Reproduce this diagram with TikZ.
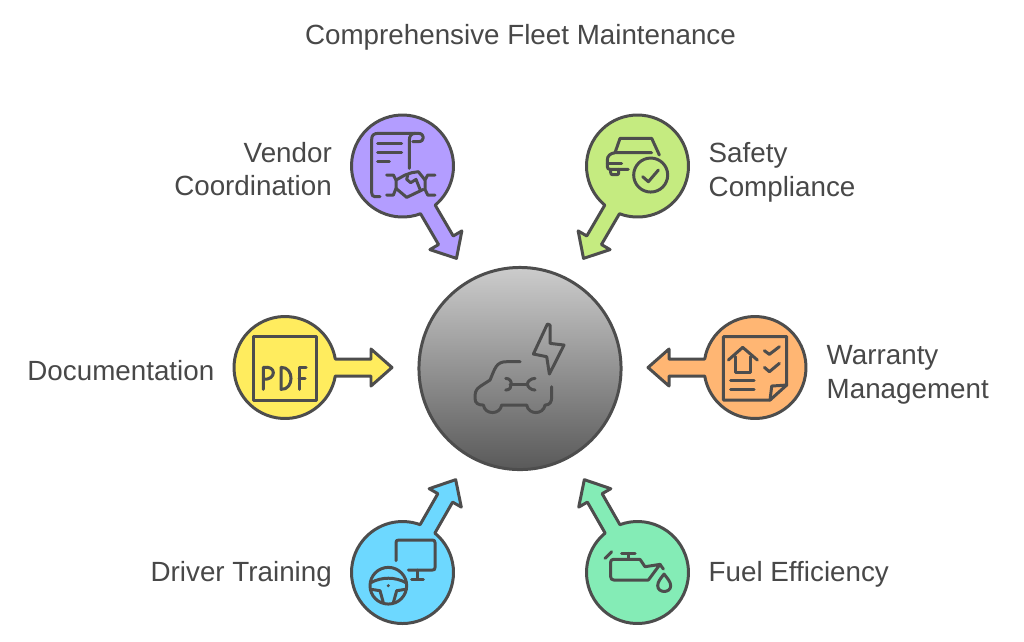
\documentclass[tikz,border=0pt]{standalone}
\usepackage{fontspec}
\setmainfont{Liberation Sans}
\usepackage{xcolor}
\usepackage{tikz}
\usetikzlibrary{calc}
\definecolor{FleetInk}{HTML}{4D4D4D}
\definecolor{FleetText}{HTML}{484848}
\definecolor{FleetPurple}{HTML}{B39DFF}
\definecolor{FleetLime}{HTML}{C5EB80}
\definecolor{FleetOrange}{HTML}{FFB673}
\definecolor{FleetYellow}{HTML}{FFEC5E}
\definecolor{FleetBlue}{HTML}{6DD8FF}
\definecolor{FleetMint}{HTML}{84ECB6}
\tikzset{
  spokeline/.style={draw=FleetInk,line width=0.85pt,line join=round},
  iconline/.style={draw=FleetInk,line width=0.85pt,line join=round,line cap=round},
  iconbox/.style 2 args={shift={(#1,#2)},x=0.03333mm,y=-0.03333mm},
  label/.style={text=FleetText,font=\fontsize{7.9}{9.6}\selectfont,inner sep=0pt},
}
\newcommand{\spoke}[4]{%
  \coordinate (#1) at (#2);
  \begin{scope}[shift={(#1)},rotate=#3]
    \draw[spokeline,fill=#4] (9.6:51) arc[start angle=9.6,end angle=350.4,radius=51]
      -- (86,-8.5) -- (86,-18.5) -- (107,0) -- (86,18.5) -- (86,8.5) -- cycle;
  \end{scope}}

\begin{document}
\begin{tikzpicture}[x=0.01cm,y=-0.01cm]
\useasboundingbox (0,0) rectangle (1024,641);
\node[label] (title) at (520.5,37) {Comprehensive Fleet Maintenance};

% centre
\node[circle,minimum size=2.02cm,inner sep=0pt,draw=FleetInk,line width=0.85pt,top color=black!20,bottom color=black!65] (hub) at (520,368.5) {};
\begin{scope}[iconbox={410}{260}]
\draw[iconline] (412,192) -- (370,282) -- (410,290) -- (418,342) -- (462,255) -- (420,250) -- (420,195) -- cycle;
\draw[iconline] (330,305) -- (290,305) .. controls (258,305) and (255,325) .. (240,360) -- (212,378) .. controls (195,388) and (195,400) .. (195,415) .. controls (195,430) and (205,435) .. (220,435)
  .. controls (225,465) and (270,465) .. (275,435) -- (350,435) .. controls (355,465) and (400,465) .. (405,435) .. controls (420,435) and (425,425) .. (425,410) -- (425,380);
\draw[iconline] (300,372) -- (352,372);
\draw[iconline] (287,355) .. controls (300,355) and (305,365) .. (303,372) .. controls (305,380) and (300,390) .. (287,390);
\draw[iconline] (375,355) .. controls (362,355) and (352,365) .. (352,372) .. controls (352,380) and (362,390) .. (375,390);
\end{scope}

% vendor coordination
\spoke{vendor}{402.5,166}{-59.7}{FleetPurple}
\begin{scope}[iconbox={340}{100}]
\draw[iconline] (120,290) -- (105,290) .. controls (98,290) and (95,285) .. (95,278) -- (95,118) .. controls (95,105) and (102,100) .. (115,100) -- (235,100) .. controls (255,100) and (255,125) .. (235,125) -- (218,125);
\draw[iconline] (208,205) -- (208,120) .. controls (208,108) and (214,100) .. (226,100);
\draw[iconline] (113,130) -- (185,130);
\draw[iconline] (113,157) -- (185,157);
\draw[iconline] (113,183) -- (148,183);
\draw[iconline] (140,225) -- (160,225) -- (168,240) -- (168,265) -- (160,285) -- (140,285);
\draw[iconline] (285,225) -- (263,225) -- (255,240) -- (255,268) -- (263,285) -- (285,285);
\draw[iconline] (168,240) -- (195,225) -- (215,218) -- (235,215) -- (255,240);
\draw[iconline] (168,265) -- (200,292) -- (225,280) -- (250,268);
\draw[iconline] (203,225) -- (200,238) -- (212,248) -- (228,238) -- (240,268);
\end{scope}
\node[label,anchor=east,align=right] (vendorlabel) at (332.5,169) {Vendor\\Coordination};

% safety compliance
\spoke{safety}{637.5,166}{-120.3}{FleetLime}
\begin{scope}[iconbox={570}{100}]
\draw[iconline] (135,158) -- (150,115) -- (245,115) -- (268,165);
\draw[iconline] (245,158) -- (135,158) .. controls (120,160) and (112,168) .. (112,180) -- (112,200) .. controls (112,205) and (115,208) .. (120,208) -- (175,208);
\draw[iconline] (112,190) -- (155,190);
\draw[iconline] (122,208) -- (122,218) .. controls (122,222) and (125,224) .. (128,224) -- (140,224) .. controls (144,224) and (146,222) .. (146,218) -- (146,208);
\draw[iconline] (242,225) circle[radius=51];
\draw[iconline] (218,230) -- (235,245) -- (265,210);
\end{scope}
\node[label,anchor=west,align=left] (safetylabel) at (708,172) {Safety\\Compliance};

% warranty management
\spoke{warranty}{755,367.5}{180}{FleetOrange}
\begin{scope}[iconbox={640}{310}]
\draw[iconline] (390,270) -- (250,270) -- (250,80) -- (440,80) -- (440,225) -- cycle;
\draw[iconline] (440,225) -- (395,228) -- (390,270);
\draw[iconline] (265,150) -- (308,112) -- (352,150);
\draw[iconline] (285,140) -- (285,188) -- (332,188) -- (332,140);
\draw[iconline] (373,122) -- (388,133) -- (418,110);
\draw[iconline] (373,172) -- (388,185) -- (418,160);
\draw[iconline] (272,212) -- (342,212);
\draw[iconline] (272,238) -- (342,238);
\end{scope}
\node[label,anchor=west,align=left] (warrantylabel) at (826,374.5) {Warranty\\Management};

% documentation
\spoke{docs}{285,367.5}{0}{FleetYellow}
\begin{scope}[iconbox={225}{310}]
\draw[iconline] (85,80) rectangle (275,270);
\draw[iconline] (115,238) -- (115,172) .. controls (155,165) and (155,210) .. (115,208);
\draw[iconline] (168,172) -- (168,238) .. controls (208,240) and (208,170) .. (168,172);
\draw[iconline] (222,238) -- (222,172) -- (243,172);
\draw[iconline] (222,205) -- (240,205);
\end{scope}
\node[label,anchor=east] (docslabel) at (215,371) {Documentation};

% driver training
\spoke{driver}{402.5,572.5}{60.2}{FleetBlue}
\begin{scope}[iconbox={340}{470}]
\draw[iconline] (168,272) -- (168,218) .. controls (168,212) and (170,210) .. (176,210) -- (277,210) .. controls (283,210) and (285,212) .. (285,218) -- (285,292) .. controls (285,298) and (283,300) .. (277,300) -- (205,300);
\draw[iconline] (232,300) -- (232,327);
\draw[iconline] (215,327) -- (250,327);
\draw[iconline] (145,347) circle[radius=55];
\fill[FleetInk] (145,347) circle[radius=5];
\draw[iconline] (92,338) .. controls (125,320) and (165,320) .. (198,338);
\draw[iconline] (95,358) -- (120,362) -- (130,398);
\draw[iconline] (195,358) -- (170,362) -- (160,398);
\end{scope}
\node[label,anchor=east] (driverlabel) at (332.5,574.5) {Driver Training};

% fuel efficiency
\spoke{fuel}{637.5,572.5}{119.8}{FleetMint}
\begin{scope}[iconbox={570}{470}]
\draw[iconline] (155,250) -- (195,250);
\draw[iconline] (175,250) -- (175,268);
\draw[iconline] (105,265) -- (125,245);
\draw[iconline] (130,268) -- (210,268) -- (225,290) -- (270,283) -- (235,330) -- (132,330) .. controls (125,330) and (122,326) .. (122,320) -- (122,276) .. controls (122,271) and (125,268) .. (130,268);
\draw[iconline] (270,283) -- (280,297);
\draw[iconline] (282,312) .. controls (272,325) and (263,335) .. (263,347) .. controls (263,370) and (302,370) .. (302,347) .. controls (302,335) and (292,325) .. (282,312) -- cycle;
\end{scope}
\node[label,anchor=west] (fuellabel) at (708,574.5) {Fuel Efficiency};
\end{tikzpicture}
\end{document}
